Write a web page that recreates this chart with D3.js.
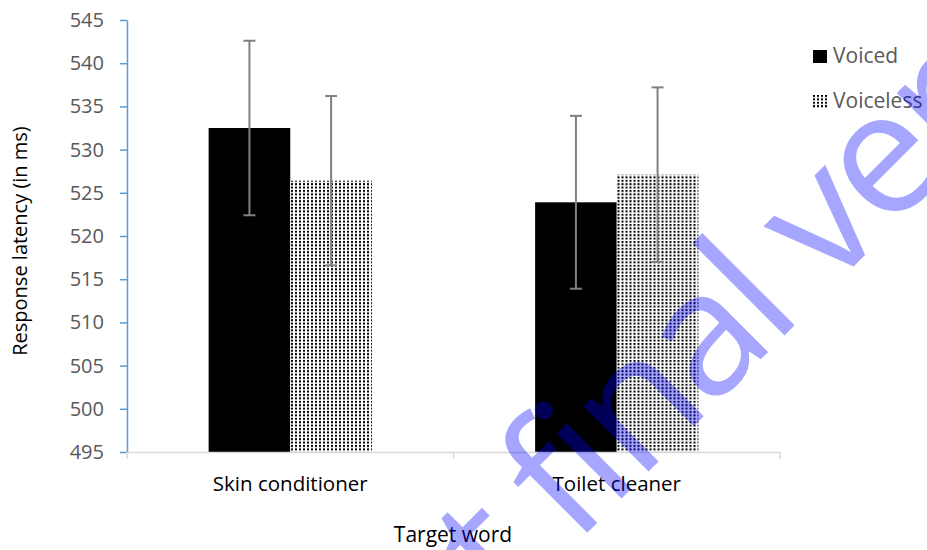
<!DOCTYPE html>
<html>
<head>
<meta charset="utf-8">
<script src="https://cdn.jsdelivr.net/npm/d3@7"></script>
<style>
  body { margin: 0; background: #fff; }
  svg { display: block; font-family: 'Open Sans', sans-serif; }
</style>
</head>
<body>
<div class="chart"></div>
<script>
'use strict';
var categories = ['Skin conditioner', 'Toilet cleaner'];
var seriesNames = ['Voiced', 'Voiceless'];
var voiced = [532.5, 523.9];
var voiceless = [526.4, 527.1];
var voicedErr = [10.1, 10.0];
var voicelessErr = [9.8, 10.1];
var yTicks = [495, 500, 505, 510, 515, 520, 525, 530, 535, 540, 545];

var width = 927, height = 550;
var margin = {top: 20, right: 147, bottom: 98, left: 127};
var innerW = width - margin.left - margin.right,
  innerH = height - margin.top - margin.bottom;

var svg = d3.select('.chart').append('svg')
  .attr('width', width)
  .attr('height', height);

// dotted fill for voiceless bars
var defs = svg.append('defs');
var pat = defs.append('pattern')
  .attr('id', 'dots')
  .attr('patternUnits', 'userSpaceOnUse')
  .attr('width', 4)
  .attr('height', 3.4);
pat.append('rect').attr('width', 4).attr('height', 3.4).attr('fill', '#fff');
pat.append('rect').attr('x', 0).attr('y', 0).attr('width', 2).attr('height', 2).attr('fill', '#000');

var g = svg.append('g')
  .attr('transform', 'translate(' + margin.left + ',' + margin.top + ')');

var x0 = d3.scaleBand().domain(categories).range([0, innerW]).padding(0);
var x1 = d3.scaleBand().domain(seriesNames)
  .range([x0.bandwidth() * 0.25, x0.bandwidth() * 0.75]).padding(0);
var y = d3.scaleLinear().domain([495, 545]).range([innerH, 0]);

var rows = categories.map(function(c, i) {
  return [
    {cat: c, s: 'Voiced', v: voiced[i], e: voicedErr[i]},
    {cat: c, s: 'Voiceless', v: voiceless[i], e: voicelessErr[i]}
  ];
});

// bars
var groups = g.selectAll('.grp')
  .data(rows)
  .enter().append('g')
  .attr('transform', function(d) { return 'translate(' + x0(d[0].cat) + ',0)'; });

groups.selectAll('rect')
  .data(function(d) { return d; })
  .enter().append('rect')
  .attr('x', function(d) { return x1(d.s); })
  .attr('width', x1.bandwidth())
  .attr('y', function(d) { return y(d.v); })
  .attr('height', function(d) { return innerH - y(d.v); })
  .attr('fill', function(d) { return d.s === 'Voiced' ? '#000' : 'url(#dots)'; });

// error bars
var eb = groups.selectAll('.err')
  .data(function(d) { return d; })
  .enter().append('g')
  .attr('stroke', '#808080')
  .attr('stroke-width', 2);
eb.append('line')
  .attr('x1', function(d) { return x1(d.s) + x1.bandwidth() / 2; })
  .attr('x2', function(d) { return x1(d.s) + x1.bandwidth() / 2; })
  .attr('y1', function(d) { return y(d.v + d.e); })
  .attr('y2', function(d) { return y(d.v - d.e); });
[1, -1].forEach(function(sign) {
  eb.append('line')
    .attr('x1', function(d) { return x1(d.s) + x1.bandwidth() / 2 - 6; })
    .attr('x2', function(d) { return x1(d.s) + x1.bandwidth() / 2 + 6; })
    .attr('y1', function(d) { return y(d.v + sign * d.e); })
    .attr('y2', function(d) { return y(d.v + sign * d.e); });
});

// y axis
var yAxis = g.append('g')
  .call(d3.axisLeft(y).tickValues(yTicks).tickSize(7).tickSizeOuter(0).tickPadding(16));
yAxis.select('.domain').attr('stroke', '#5b9bd5').attr('stroke-width', 1.5);
yAxis.selectAll('.tick line').attr('stroke', '#5b9bd5').attr('stroke-width', 1.5);
yAxis.selectAll('.tick text')
  .attr('fill', '#595959')
  .style('font-size', '20px')
  .style('font-family', "'Open Sans', sans-serif");

// x axis
var xAxis = g.append('g')
  .attr('transform', 'translate(0,' + innerH + ')')
  .call(d3.axisBottom(x0).tickSize(0).tickPadding(24));
xAxis.select('.domain').attr('stroke', '#d9d9d9').attr('stroke-width', 1.5);
xAxis.selectAll('.tick text')
  .attr('fill', '#000')
  .style('font-size', '20.5px')
  .style('font-family', "'Open Sans', sans-serif");
var edges = categories.map(function(c) { return x0(c); }).concat([innerW]);
xAxis.selectAll('.edge')
  .data(edges)
  .enter().append('line')
  .attr('x1', function(d) { return d; })
  .attr('x2', function(d) { return d; })
  .attr('y1', 0)
  .attr('y2', 7)
  .attr('stroke', '#d9d9d9')
  .attr('stroke-width', 1.5);

// axis titles
svg.append('text')
  .attr('x', 453)
  .attr('y', 542)
  .attr('text-anchor', 'middle')
  .style('font-size', '21px')
  .text('Target word');

svg.append('text')
  .attr('transform', 'translate(27,' + 241 + ') rotate(-90)')
  .attr('text-anchor', 'middle')
  .style('font-size', '20px')
  .text('Response latency (in ms)');

// legend
var legend = svg.append('g').attr('transform', 'translate(813,50)');
var li = legend.selectAll('.li')
  .data(seriesNames)
  .enter().append('g')
  .attr('transform', function(d, i) { return 'translate(0,' + (i * 45) + ')'; });
li.append('rect')
  .attr('width', 14)
  .attr('height', 13)
  .attr('fill', function(d) { return d === 'Voiced' ? '#000' : 'url(#dots)'; });
li.append('text')
  .attr('x', 20)
  .attr('y', 13)
  .attr('fill', '#595959')
  .style('font-size', '21px')
  .text(function(d) { return d; });

// watermark
var fs = 172;
var wm = svg.append('text')
  .attr('fill', '#0000ff')
  .attr('fill-opacity', 0.35)
  .style('font-size', fs + 'px')
  .style('letter-spacing', '-6px')
  .style('font-family', "'Open Sans', sans-serif")
  .text('Not final version');
var fStem = wm.node().getStartPositionOfChar(4).x + 0.17 * fs;
var lStem = wm.node().getStartPositionOfChar(8).x + 0.13 * fs;
var sx = 276 / (lStem - fStem);
wm.attr('transform', 'translate(790,330) rotate(-45) scale(' + sx + ',1) translate(' + (-lStem) + ',0)');
</script>
</body>
</html>
